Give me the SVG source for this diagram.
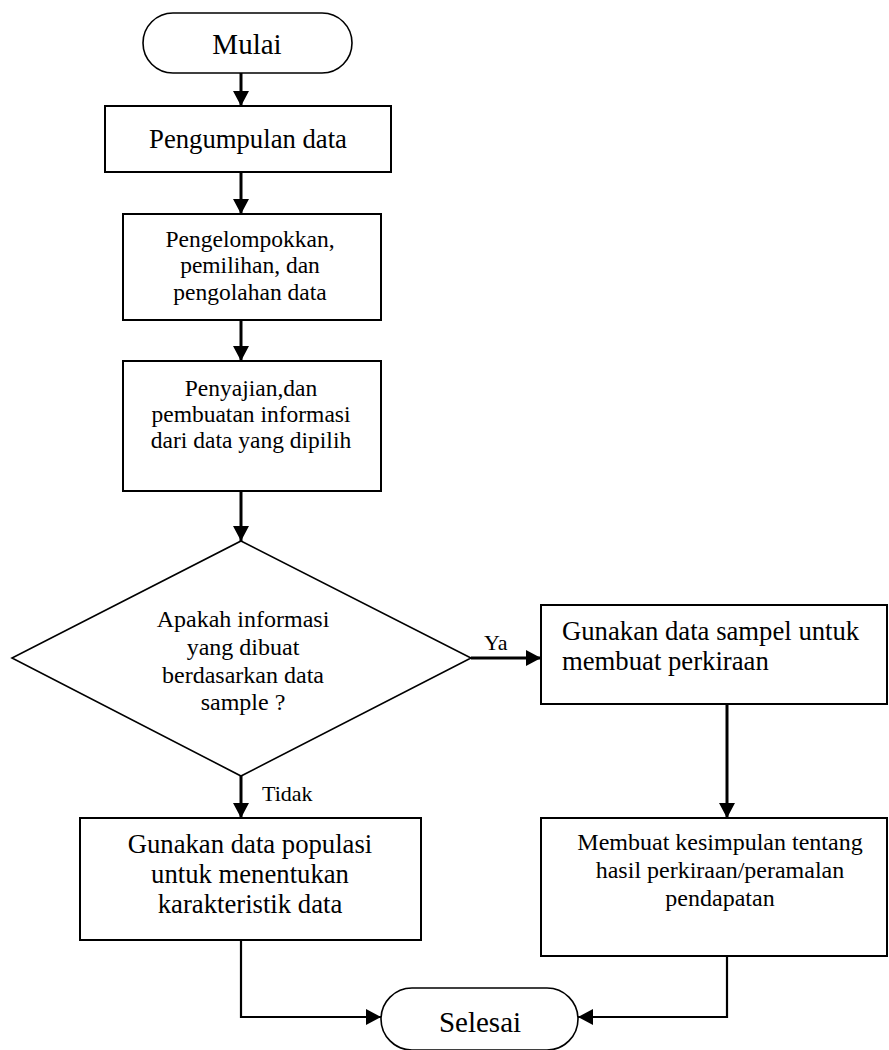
<svg xmlns="http://www.w3.org/2000/svg" width="889" height="1050" viewBox="0 0 889 1050">
<style>
.box{fill:#fff;stroke:#000;stroke-width:2}
.term{fill:#fff;stroke:#000;stroke-width:1.6}
.dia{fill:#fff;stroke:#000;stroke-width:1.6}
.t{font-family:"Liberation Serif","Times New Roman",serif;fill:#000}
.c{text-anchor:middle}
.con{fill:none;stroke:#000;stroke-width:3}
.con2{fill:none;stroke:#000;stroke-width:2.2}
</style>
<defs>
<marker id="ah" markerUnits="userSpaceOnUse" markerWidth="16" markerHeight="16" refX="15" refY="8" orient="auto">
<path d="M0,0 L15,8 L0,16 z" fill="#000"/>
</marker>
</defs>
<rect width="889" height="1050" fill="#fff"/>
<g id="connectors">
<line class="con" x1="241" y1="73" x2="241" y2="106" marker-end="url(#ah)"/>
<line class="con" x1="241" y1="172" x2="241" y2="214" marker-end="url(#ah)"/>
<line class="con" x1="241" y1="320" x2="241" y2="361" marker-end="url(#ah)"/>
<line class="con" x1="241" y1="491" x2="241" y2="541" marker-end="url(#ah)"/>
<line class="con" x1="471" y1="658" x2="541" y2="658" marker-end="url(#ah)"/>
<line class="con" x1="241" y1="776" x2="241" y2="818" marker-end="url(#ah)"/>
<line class="con" x1="727" y1="704" x2="727" y2="818" marker-end="url(#ah)"/>
<polyline class="con2" points="241,940 241,1017 381,1017" marker-end="url(#ah)"/>
<polyline class="con2" points="727,956 727,1017 578,1017" marker-end="url(#ah)"/>
<text class="t" x="484" y="650" font-size="22">Ya</text>
<text class="t" x="262" y="801" font-size="22">Tidak</text>
</g>
<g id="mulai">
<rect class="term" x="143" y="13" width="209" height="60" rx="30" ry="30"/>
<text class="t c" x="247" y="54" font-size="29">Mulai</text>
</g>
<g id="pengumpulan">
<rect class="box" x="105" y="106" width="286" height="66"/>
<text class="t c" x="248" y="148" font-size="26.7">Pengumpulan data</text>
</g>
<g id="pengelompokkan">
<rect class="box" x="123" y="214" width="258" height="106"/>
<text class="t c" x="250" y="247" font-size="23.5">Pengelompokkan,</text>
<text class="t c" x="250" y="273" font-size="23.5">pemilihan, dan</text>
<text class="t c" x="250" y="300" font-size="23.5">pengolahan data</text>
</g>
<g id="penyajian">
<rect class="box" x="123" y="361" width="258" height="130"/>
<text class="t c" x="251" y="396" font-size="23.5">Penyajian,dan</text>
<text class="t c" x="251" y="422" font-size="23.5">pembuatan informasi</text>
<text class="t c" x="251" y="448" font-size="23.5">dari data yang dipilih</text>
</g>
<g id="keputusan">
<polygon class="dia" points="241,541 471,658 241,776 12,658"/>
<text class="t c" x="243" y="627" font-size="24">Apakah informasi</text>
<text class="t c" x="243" y="655" font-size="24">yang dibuat</text>
<text class="t c" x="243" y="683" font-size="24">berdasarkan data</text>
<text class="t c" x="243" y="710" font-size="24">sample ?</text>
</g>
<g id="sampel">
<rect class="box" x="541" y="605" width="346" height="99"/>
<text class="t" x="562" y="640" font-size="26.7">Gunakan data sampel untuk</text>
<text class="t" x="562" y="670" font-size="26.7">membuat perkiraan</text>
</g>
<g id="kesimpulan">
<rect class="box" x="541" y="818" width="346" height="138"/>
<text class="t c" x="720" y="850" font-size="24">Membuat kesimpulan tentang</text>
<text class="t c" x="720" y="878" font-size="24">hasil perkiraan/peramalan</text>
<text class="t c" x="720" y="906" font-size="24">pendapatan</text>
</g>
<g id="populasi">
<rect class="box" x="80" y="818" width="341" height="122"/>
<text class="t c" x="250" y="853" font-size="26.7">Gunakan data populasi</text>
<text class="t c" x="250" y="883" font-size="26.7">untuk menentukan</text>
<text class="t c" x="250" y="913" font-size="26.7">karakteristik data</text>
</g>
<g id="selesai">
<rect class="term" x="381" y="988" width="197" height="62" rx="31" ry="31"/>
<text class="t c" x="480" y="1032" font-size="29">Selesai</text>
</g>
</svg>
